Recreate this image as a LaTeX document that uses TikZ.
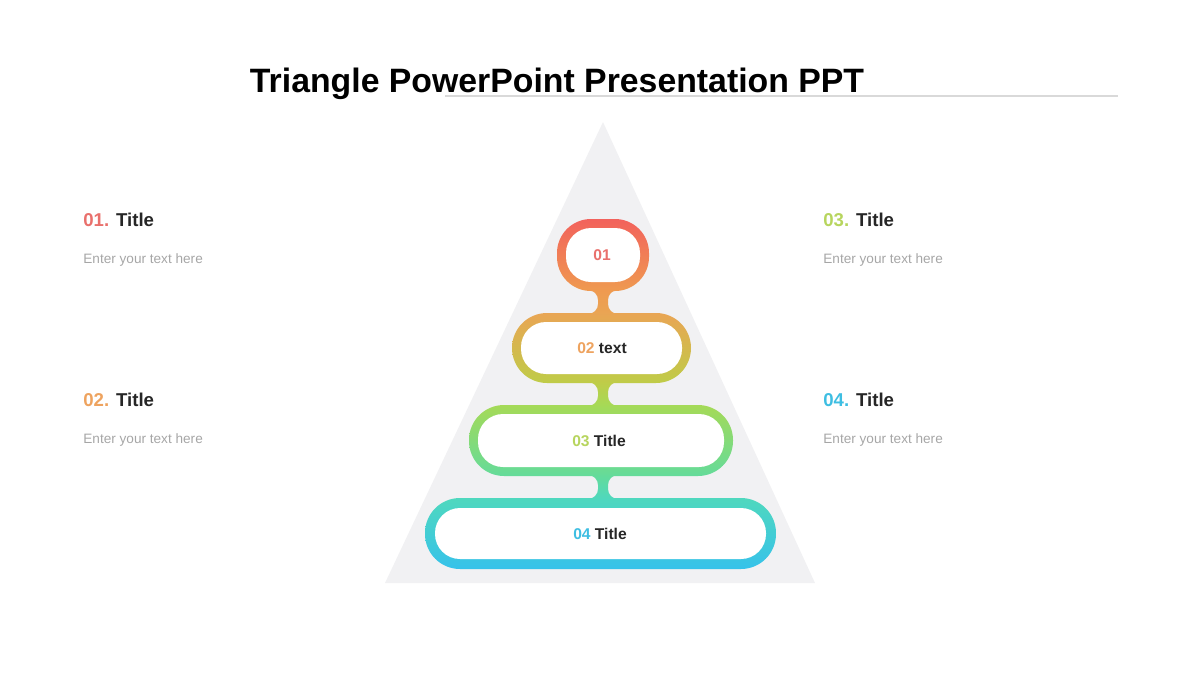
\documentclass[tikz,border=0pt]{standalone}
\usepackage{fontspec}
\setmainfont{Liberation Sans}
\definecolor{pyrgray}{HTML}{F1F1F3}
\definecolor{linegray}{HTML}{D9D9D9}
\definecolor{titlegray}{HTML}{262626}
\definecolor{bodygray}{HTML}{A6A6A6}
\definecolor{g1}{HTML}{F2625C}
\definecolor{g2}{HTML}{EF9A50}
\definecolor{g3}{HTML}{E9A554}
\definecolor{g4}{HTML}{BFCC48}
\definecolor{g5}{HTML}{A5DA57}
\definecolor{g6}{HTML}{64DB9A}
\definecolor{g7}{HTML}{4FD8BE}
\definecolor{g8}{HTML}{36C2EA}
\definecolor{n1}{HTML}{E9706C}
\definecolor{n2}{HTML}{EEA35F}
\definecolor{n3}{HTML}{B7D55E}
\definecolor{n4}{HTML}{3EBEE2}

\begin{document}
\begin{tikzpicture}[x=0.5pt,y=-0.5pt,
  head/.style={anchor=west,inner sep=0pt,text=titlegray,font=\fontsize{9.3}{11}\selectfont\bfseries},
  body/.style={anchor=west,inner sep=0pt,text=bodygray,font=\fontsize{6.8}{8}\selectfont},
  tag/.style={inner sep=0pt,text=titlegray,font=\fontsize{7.8}{9}\selectfont\bfseries}]
\useasboundingbox (0,0) rectangle (1200,675);
\fill[pyrgray] (603,122) -- (815,583) -- (385,583) -- cycle;
\draw[linegray,line width=1pt] (445,96) -- (1118,96);
\node[inner sep=0pt,font=\fontsize{16.9}{20}\selectfont\bfseries] (title) at (557,84) {Triangle PowerPoint Presentation PPT};

\shade[top color=g1,bottom color=g2,rounded corners=17pt] (557,219) rectangle (649,291);
\shade[top color=g3,bottom color=g4,rounded corners=17.5pt] (512,313) rectangle (691,383);
\shade[top color=g5,bottom color=g6,rounded corners=17.5pt] (469,405) rectangle (733,476);
\shade[top color=g7,bottom color=g8,rounded corners=17.5pt] (425,498) rectangle (776,569);
\foreach \ya/\yb/\ca/\cb in {290/314/g2/g3,382/406/g4/g5,475/499/g6/g7}
  \shade[top color=\ca,bottom color=\cb] (588,\ya) to[out=0,in=90] (598,\ya+10)
    -- (598,\yb-10) to[out=-90,in=0] (588,\yb) -- (618,\yb) to[out=180,in=-90] (608,\yb-10)
    -- (608,\ya+10) to[out=90,in=180] (618,\ya) -- cycle;
\fill[white,rounded corners=12.5pt] (566,228) rectangle (640,282);
\fill[white,rounded corners=12.5pt] (521,322) rectangle (682,374);
\fill[white,rounded corners=12.5pt] (478,414) rectangle (724,467);
\fill[white,rounded corners=12.5pt] (435,508) rectangle (766,559);

\node[tag,text=n1] (tag1) at (602,255) {01};
\node[tag] (tag2) at (602,348) {\textcolor{n2}{02} text};
\node[tag] (tag3) at (599,441) {\textcolor{n3}{03} Title};
\node[tag] (tag4) at (600,534) {\textcolor{n4}{04} Title};

\node[head] (head1) at (83,220) {\textcolor{n1}{01.} Title};
\node[body] (body1) at (83,260) {Enter your text here};
\node[head] (head2) at (83,400) {\textcolor{n2}{02.} Title};
\node[body] (body2) at (83,440) {Enter your text here};
\node[head] (head3) at (823,220) {\textcolor{n3}{03.} Title};
\node[body] (body3) at (823,260) {Enter your text here};
\node[head] (head4) at (823,400) {\textcolor{n4}{04.} Title};
\node[body] (body4) at (823,440) {Enter your text here};
\end{tikzpicture}
\end{document}
